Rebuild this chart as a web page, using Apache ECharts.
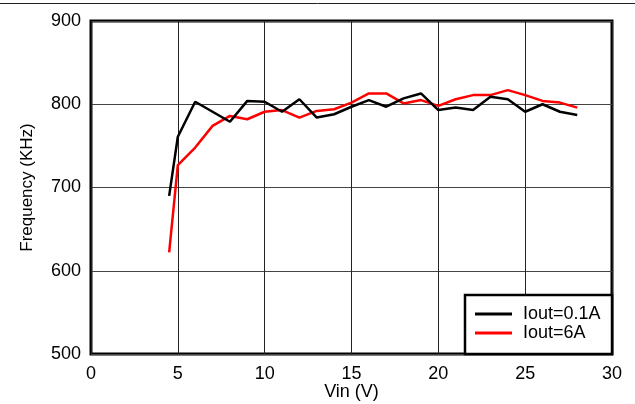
<!DOCTYPE html>
<html>
<head>
<meta charset="utf-8">
<script src="https://cdn.jsdelivr.net/npm/echarts@6/dist/echarts.min.js"></script>
<style>
html,body{margin:0;padding:0;background:#fff;}
#chart{width:635px;height:404px;}
</style>
</head>
<body>
<div id="chart"></div>
<script>
var vin = [4.5, 5, 6, 7, 8, 9, 10, 11, 12, 13, 14, 15, 16, 17, 18, 19, 20, 21, 22, 23, 24, 25, 26, 27, 28];
var iout01 = [690, 761, 803, null, 779, 804, 803, 791, 806, 784, 788, 797, 805, 797, 807, 813, 793, 796, 793, 809, 806, 791, 800, 791, 787];
var iout6 = [622, 727, 748, 774, 786, 782, 791, 793, 784, 792, 794, 802, 813, 813, 801, 805, 798, 806, 811, 811, 817, 811, 804, 802, 796];
var seriesNames = ['Iout=0.1A', 'Iout=6A'];
var xTicks = [0, 5, 10, 15, 20, 25, 30];
var yTicks = [500, 600, 700, 800, 900];

function pairs(ys) {
  var out = [];
  for (var i = 0; i < vin.length; i++) out.push([vin[i], ys[i]]);
  return out;
}

var FONT = 'Liberation Sans, Arial, sans-serif';
var FS = 18;
var chart = echarts.init(document.getElementById('chart'), null, {renderer: 'canvas'});
chart.setOption({
  animation: false,
  backgroundColor: '#fff',
  textStyle: {fontFamily: FONT, color: '#000'},
  grid: {left: 91, right: 23, top: 21, bottom: 50, containLabel: false, outerBoundsMode: 'none',
         show: true, borderColor: '#000', borderWidth: 3, backgroundColor: 'transparent'},
  xAxis: {
    type: 'value', min: xTicks[0], max: xTicks[xTicks.length - 1], interval: 5,
    name: 'Vin (V)', nameLocation: 'middle', nameGap: 29, nameMoveOverlap: false,
    nameTextStyle: {fontSize: FS, color: '#000', fontFamily: FONT},
    axisLine: {show: false}, axisTick: {show: false},
    axisLabel: {fontSize: FS, color: '#000', margin: 11, fontFamily: FONT},
    splitLine: {show: true, lineStyle: {color: '#222', width: 1}}
  },
  yAxis: {
    type: 'value', min: yTicks[0], max: yTicks[yTicks.length - 1], interval: 100,
    name: 'Frequency (KHz)', nameLocation: 'middle', nameGap: 55, nameMoveOverlap: false,
    nameTextStyle: {fontSize: 17, color: '#000', fontFamily: FONT},
    axisLine: {show: false}, axisTick: {show: false},
    axisLabel: {fontSize: FS, color: '#000', margin: 10, fontFamily: FONT},
    splitLine: {show: true, lineStyle: {color: '#444', width: 1}}
  },
  legend: {
    orient: 'vertical', left: 475, top: 305, itemWidth: 37, itemHeight: 3, itemGap: 1,
    icon: 'rect', padding: 0, z: 10,
    textStyle: {fontSize: FS, color: '#000', fontFamily: FONT, padding: [0, 0, 0, 6]},
    data: seriesNames
  },
  graphic: [
    {type: 'line', shape: {x1: 0, y1: 3.5, x2: 635, y2: 3.5}, style: {stroke: '#222', lineWidth: 1}, z: 5},
    {type: 'rect', shape: {x: 465, y: 295, width: 147, height: 59}, style: {fill: '#fff', stroke: '#000', lineWidth: 2.5}, z: 9}
  ],
  series: [
    {name: seriesNames[0], type: 'line', data: pairs(iout01), symbol: 'none', connectNulls: true,
     lineStyle: {color: '#000', width: 2.5}, itemStyle: {color: '#000'}, z: 4},
    {name: seriesNames[1], type: 'line', data: pairs(iout6), symbol: 'none',
     lineStyle: {color: '#ff0000', width: 2.5}, itemStyle: {color: '#ff0000'}, z: 3}
  ]
});
</script>
</body>
</html>
